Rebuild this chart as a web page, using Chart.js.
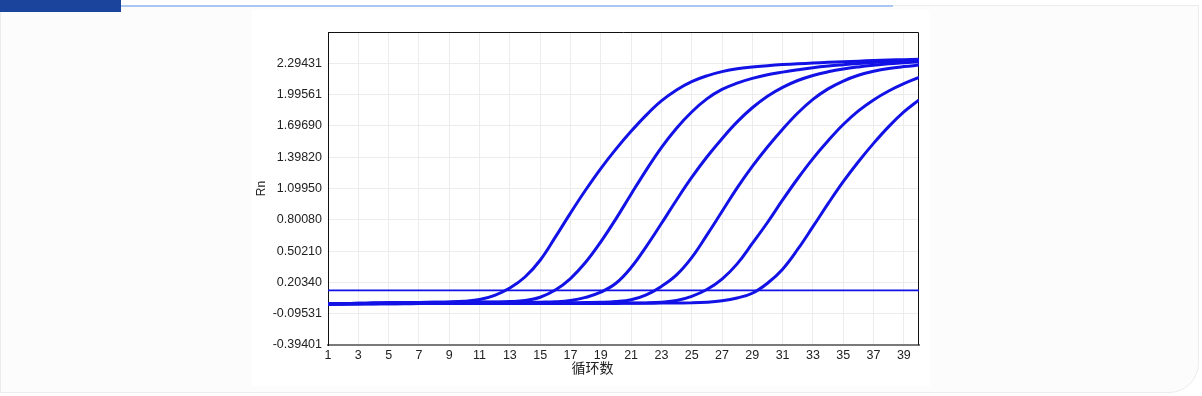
<!DOCTYPE html>
<html>
<head>
<meta charset="utf-8">
<script src="https://cdn.jsdelivr.net/npm/chart.js@4"></script>
<style>
  html, body { margin: 0; padding: 0; background: #ffffff; }
  body { width: 1202px; height: 396px; position: relative; overflow: hidden; }
  #card {
    position: absolute; left: 0; top: 5px; width: 1199px; height: 388px;
    border: 1px solid #ececec; border-bottom-right-radius: 30px;
    background: #fcfcfc; box-sizing: border-box;
  }
  #bar { position: absolute; left: 0; top: 0; width: 121px; height: 12px; background: #1b449c; }
  #rule { position: absolute; left: 121px; top: 5px; width: 772px; height: 2px; background: #aac5ef; }
  #paper { position: absolute; left: 252px; top: 10px; width: 678px; height: 376px; background: #ffffff; }
  #chart1 { position: absolute; left: 250px; top: 0; }
</style>
</head>
<body>
<div id="card"></div>
<div id="rule"></div>
<div id="bar"></div>
<div id="paper"></div>
<canvas id="chart1" width="680" height="396"></canvas>
<script>
// cycle numbers and tick labels
const cycles = [1,2,3,4,5,6,7,8,9,10,11,12,13,14,15,16,17,18,19,20,21,22,23,24,25,26,27,28,29,30,31,32,33,34,35,36,37,38,39,40];
const xTicks = [1,3,5,7,9,11,13,15,17,19,21,23,25,27,29,31,33,35,37,39];
const yTicks = [-0.39401,-0.09531,0.20340,0.50210,0.80080,1.09950,1.39820,1.69690,1.99561,2.29431];
const yTickLabels = ["-0.39401","-0.09531","0.20340","0.50210","0.80080","1.09950","1.39820","1.69690","1.99561","2.29431"];
const yMin = -0.39401;
const yMax = 2.59301;
const threshold = 0.127;

// amplification curves (Rn per cycle)
const rn1 = [0.000,0.002,0.004,0.006,0.008,0.010,0.012,0.014,0.017,0.024,0.040,0.080,0.150,0.255,0.415,0.635,0.865,1.085,1.290,1.475,1.645,1.800,1.935,2.040,2.120,2.175,2.215,2.243,2.260,2.272,2.282,2.290,2.297,2.304,2.310,2.315,2.320,2.325,2.329,2.333];
const rn2 = [0.000,0.002,0.004,0.006,0.008,0.010,0.012,0.013,0.014,0.015,0.016,0.017,0.020,0.030,0.062,0.130,0.240,0.395,0.590,0.810,1.045,1.275,1.490,1.675,1.830,1.955,2.045,2.105,2.150,2.185,2.210,2.232,2.252,2.268,2.281,2.293,2.303,2.312,2.319,2.325];
const rn3 = [-0.002,0.000,0.002,0.004,0.006,0.008,0.010,0.011,0.012,0.012,0.013,0.013,0.014,0.014,0.015,0.018,0.030,0.060,0.110,0.195,0.345,0.545,0.765,0.990,1.205,1.400,1.575,1.735,1.870,1.980,2.065,2.130,2.178,2.213,2.240,2.260,2.276,2.289,2.299,2.308];
const rn4 = [-0.003,-0.001,0.001,0.003,0.004,0.005,0.006,0.007,0.007,0.008,0.008,0.008,0.009,0.009,0.009,0.010,0.010,0.011,0.013,0.020,0.038,0.085,0.165,0.275,0.440,0.655,0.880,1.105,1.310,1.495,1.665,1.820,1.950,2.050,2.125,2.180,2.218,2.245,2.263,2.277];
const rn5 = [-0.004,-0.003,-0.002,-0.001,0.000,0.001,0.002,0.002,0.003,0.003,0.003,0.003,0.003,0.003,0.003,0.003,0.004,0.004,0.005,0.006,0.007,0.008,0.014,0.030,0.070,0.135,0.235,0.380,0.575,0.775,0.990,1.195,1.385,1.555,1.710,1.840,1.945,2.030,2.100,2.159];
const rn6 = [-0.005,-0.004,-0.003,-0.002,-0.001,0.000,0.001,0.001,0.002,0.002,0.002,0.002,0.002,0.002,0.002,0.002,0.002,0.003,0.003,0.003,0.004,0.005,0.006,0.007,0.008,0.014,0.028,0.055,0.100,0.195,0.330,0.520,0.735,0.955,1.165,1.355,1.530,1.690,1.830,1.945];

const blue = "#1212e6";
function pts(arr) { return cycles.map((c, i) => ({x: c, y: arr[i]})); }
function curve(arr) {
    return {
        data: pts(arr),
        borderColor: blue,
        borderWidth: 3,
        pointRadius: 0,
        tension: 0.4,
        fill: false,
    };
}

// black top/right edge of the plot box, plus the x title (centred on the whole widget)
const frame = {
    id: "frame",
    beforeDatasetsDraw(chart) {
        const {ctx, chartArea: a} = chart;
        ctx.save();
        ctx.strokeStyle = "#111111";
        ctx.lineWidth = 1;
        ctx.beginPath();
        ctx.moveTo(a.left, a.top + 0.5);
        ctx.lineTo(a.right - 0.5, a.top + 0.5);
        ctx.lineTo(a.right - 0.5, a.bottom);
        ctx.stroke();
        ctx.restore();
    },
    afterDraw(chart) {
        const {ctx, chartArea: a} = chart;
        ctx.save();
        ctx.fillStyle = "#222222";
        ctx.font = "14px 'Noto Sans CJK SC'";
        ctx.textAlign = "center";
        ctx.textBaseline = "middle";
        ctx.fillText("循环数", (a.left + a.right) / 2 - 31, 368);
        ctx.restore();
    }
};

const chart1 = document.getElementById("chart1");
var stat1 = new Chart(chart1, {
    type: "line",
    data: {
        datasets: [
            curve(rn1), curve(rn2), curve(rn3), curve(rn4), curve(rn5), curve(rn6),
            {
                data: [{x: cycles[0], y: threshold}, {x: cycles[cycles.length - 1], y: threshold}],
                borderColor: blue,
                borderWidth: 1.6,
                pointRadius: 0,
            },
        ],
    },
    options: {
        responsive: false,
        animation: false,
        devicePixelRatio: 1,
        layout: {padding: {left: 0, right: 11, top: 32, bottom: 20}},
        plugins: {legend: {display: false}, tooltip: {enabled: false}},
        scales: {
            x: {
                type: "linear",
                min: 1,
                max: 40,
                afterBuildTicks: (s) => { s.ticks = xTicks.map(v => ({value: v})); },
                afterFit: (s) => { s.height = 31; },
                grid: {color: "#ececec", drawTicks: false},
                border: {color: "#7a7a7a", width: 2},
                ticks: {padding: 3, color: "#222222", font: {family: "Liberation Sans, Arial", size: 12.5}},
            },
            y: {
                min: yMin,
                max: yMax,
                afterBuildTicks: (s) => { s.ticks = yTicks.map(v => ({value: v})); },
                afterFit: (s) => { s.width = 78; },
                grid: {color: "#ececec", drawTicks: false},
                border: {color: "#111111", width: 1},
                ticks: {
                    padding: 6, color: "#222222", font: {family: "Liberation Sans, Arial", size: 12.5},
                    callback: (v, i) => yTickLabels[i],
                },
                title: {display: true, text: "Rn", color: "#222222", padding: {top: 4, bottom: 0},
                        font: {family: "Liberation Sans, Arial", size: 12}},
            },
        },
    },
    plugins: [frame],
});
</script>
</body>
</html>
